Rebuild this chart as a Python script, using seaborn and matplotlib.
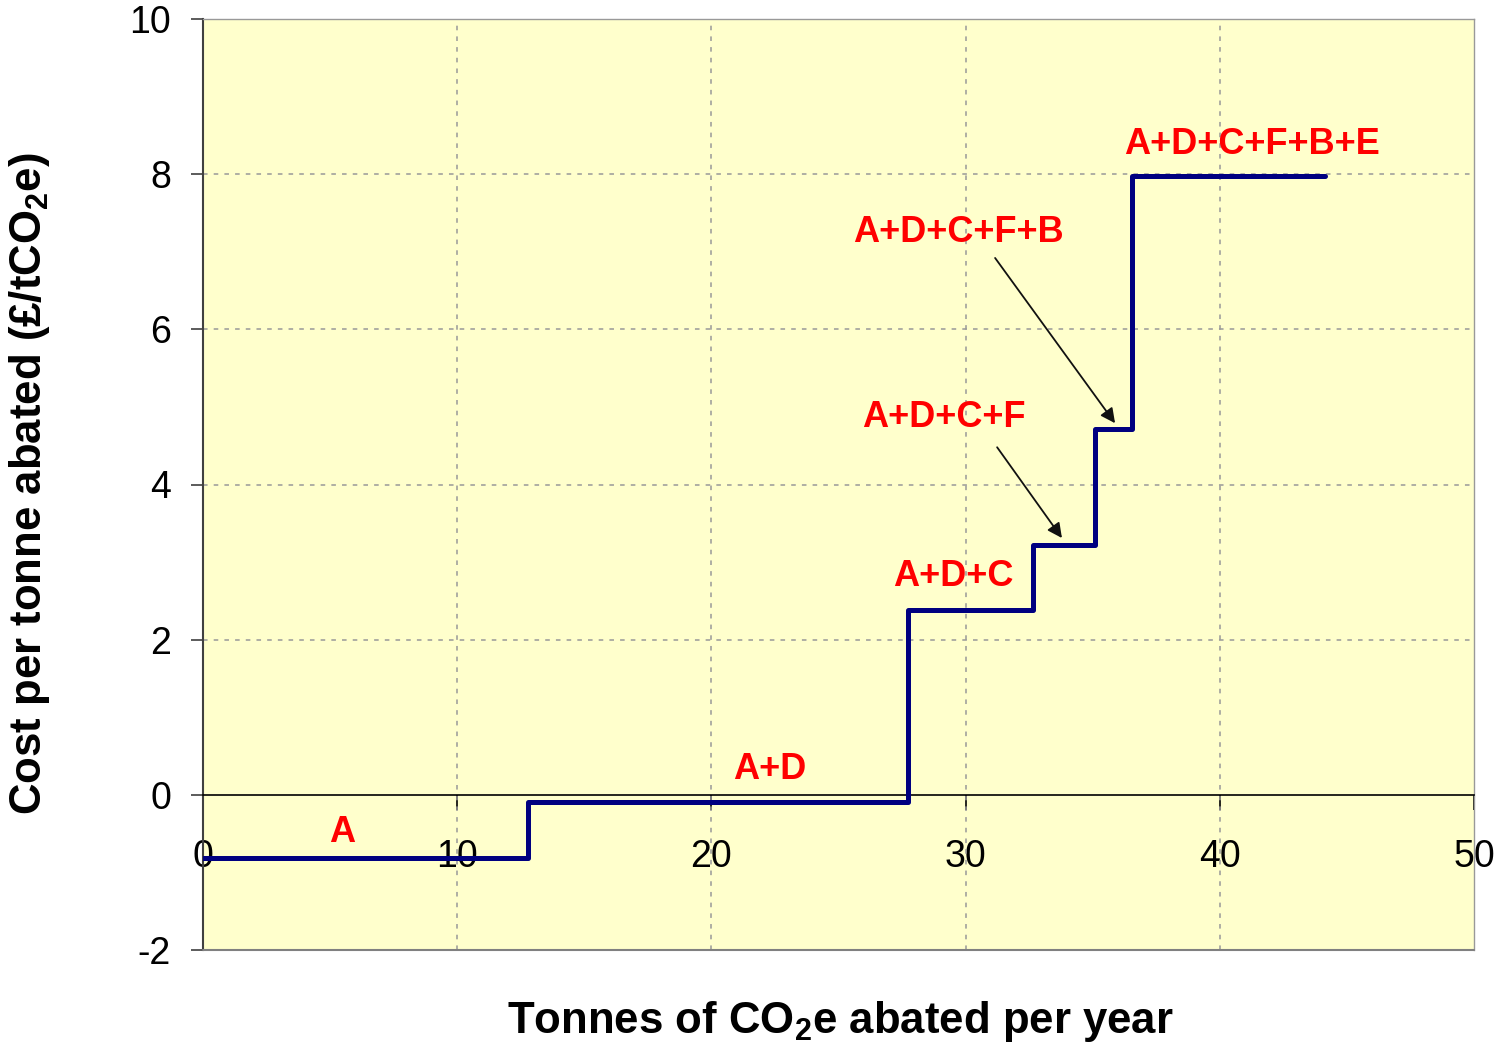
import numpy as np
import pandas as pd
import matplotlib
matplotlib.use('Agg')
import matplotlib.pyplot as plt
import seaborn as sns

# Step edges of the marginal abatement cost curve
abated = [0, 12.8, 27.75, 32.65, 35.1, 36.55, 44.15]
cost = [-0.82, -0.09, 2.38, 3.22, 4.72, 7.97, 7.97]

# Labels for each measure combination (text, x, y)
step_labels = ['A', 'A+D', 'A+D+C', 'A+D+C+F', 'A+D+C+F+B', 'A+D+C+F+B+E']
label_x = [5.47, 22.3, 29.5, 29.15, 29.7, 41.27]
label_y = [-0.48, 0.33, 2.82, 4.86, 7.25, 8.38]

# Arrows: (label, tail, head)
arrows = [
    ('A+D+C+F', (31.24, 4.48), (33.79, 3.31)),
    ('A+D+C+F+B', (31.16, 6.92), (35.88, 4.79)),
]

x_ticks = [0, 10, 20, 30, 40, 50]
y_ticks = [-2, 0, 2, 4, 6, 8, 10]

sns.set_theme(style='white')
plt.rcParams['font.family'] = ['Liberation Sans', 'DejaVu Sans']
plt.rcParams['mathtext.fontset'] = 'custom'
plt.rcParams['mathtext.rm'] = 'Liberation Sans'
plt.rcParams['mathtext.bf'] = 'Liberation Sans:bold'
plt.rcParams['axes.unicode_minus'] = False
plt.rcParams['text.color'] = 'black'
plt.rcParams['xtick.color'] = 'black'
plt.rcParams['ytick.color'] = 'black'

fig = plt.figure(figsize=(14.98, 10.46), dpi=100)
ax = fig.add_axes([203 / 1498, 1 - 950 / 1046, (1474 - 203) / 1498, (950 - 19) / 1046])
ax.set_facecolor('#FFFFCC')

df = pd.DataFrame({'abated': abated, 'cost': cost})
sns.lineplot(data=df, x='abated', y='cost', drawstyle='steps-post',
             color='#000080', linewidth=3.6, ax=ax, zorder=4)

ax.set_xlim(0, 50)
ax.set_ylim(-2, 10)
ax.set_xticks(x_ticks)
ax.set_yticks(y_ticks)

# gridlines
for xv in x_ticks[1:-1]:
    ax.axvline(xv, color='#999999', linestyle=(0, (3, 4)), linewidth=1.1, zorder=1)
for yv in y_ticks[2:-1]:
    ax.axhline(yv, color='#999999', linestyle=(0, (3, 4)), linewidth=1.1, zorder=1)

# bottom spine sits at y=0, frame line drawn at the bottom
ax.spines['bottom'].set_position(('data', 0))
ax.spines['bottom'].set_color('black')
ax.spines['bottom'].set_linewidth(1.2)
ax.axhline(-2, color='#808080', linewidth=1.5, clip_on=False, zorder=3)
ax.spines['left'].set_color('#404040')
ax.spines['left'].set_linewidth(1.5)
for s in ['top', 'right']:
    ax.spines[s].set_color('#999999')
    ax.spines[s].set_linewidth(1.0)

ax.tick_params(axis='x', direction='out', length=11, width=1.2, color='black',
               pad=21, labelsize=27, labelcolor='black', bottom=True)
ax.tick_params(axis='y', direction='out', length=9, width=1.2, color='#404040',
               pad=14, labelsize=27, labelcolor='black', left=True)

ax.set_xlabel('')
ax.set_ylabel('')
fig.text(840 / 1498, 1 - 1022 / 1046, r'Tonnes of CO$_{\mathbf{2}}$e abated per year',
         ha='center', va='center', fontsize=31.5, fontweight='bold', color='black')
fig.text(30 / 1498, 1 - 484 / 1046, r'Cost per tonne abated (£/tCO$_{\mathbf{2}}$e)',
         ha='center', va='center', fontsize=31.5, fontweight='bold', rotation=90,
         color='black')

for txt, lx, ly in zip(step_labels, label_x, label_y):
    ax.text(lx, ly, txt, color='#FF0000', fontsize=26, fontweight='bold',
            ha='center', va='center', zorder=5)

for _, tail, head in arrows:
    ax.annotate('', xy=head, xytext=tail,
                arrowprops=dict(arrowstyle='-|>', color='#111111', lw=1.3,
                                mutation_scale=22, shrinkA=0, shrinkB=0),
                zorder=5)

fig.savefig('out.png', dpi=100, facecolor='white')
